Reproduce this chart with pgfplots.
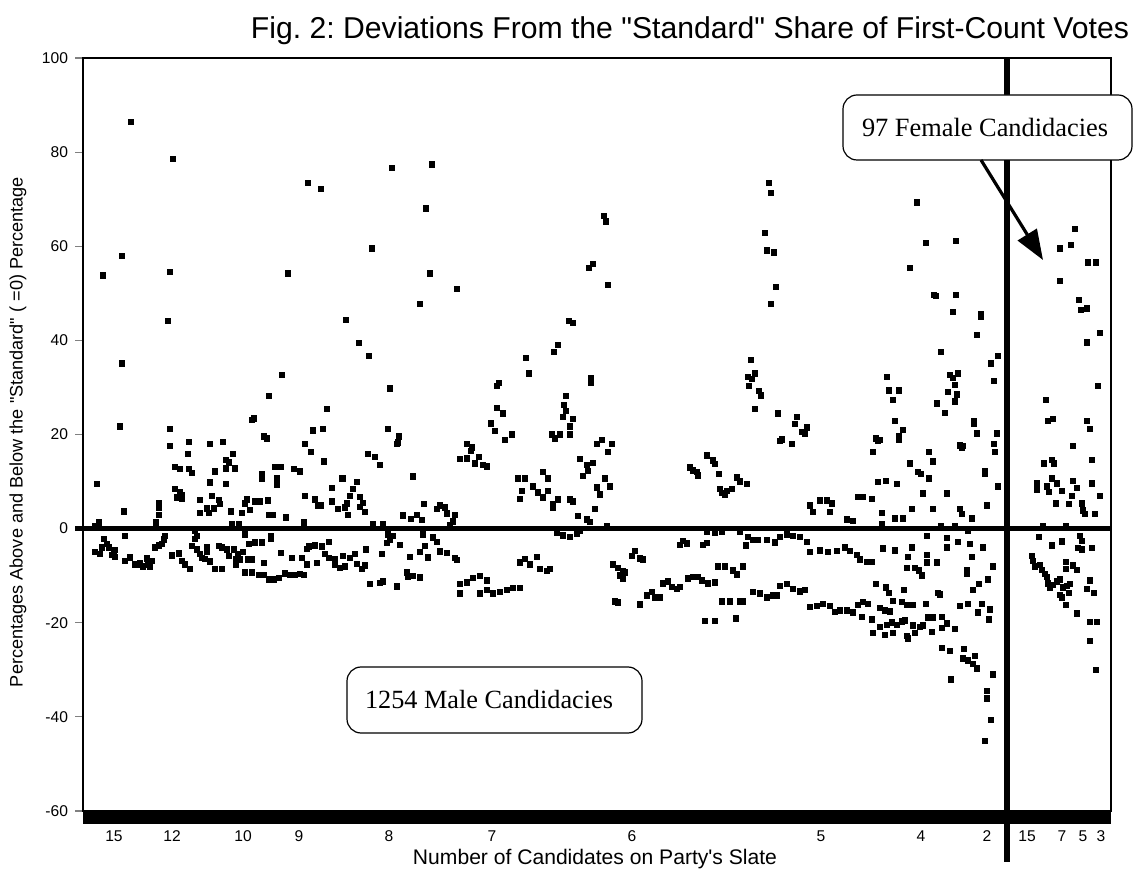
\documentclass[border=0pt]{standalone}
\usepackage{fontspec}
\setmainfont{Liberation Serif}
\setsansfont{Liberation Sans}
\usepackage{pgfplots}
\usepackage{pgfplotstable}
\pgfplotsset{compat=1.18}
\usetikzlibrary{arrows.meta}
\frenchspacing

\pgfplotstableread{
x y
131 86.4
173 78.6
308 73.4
321 72.2
122 57.9
103 53.8
170 54.6
288 54.2
168 44.1
122 35.1
282 32.7
269 28.2
327 25.4
252 23.1
254 23.4
120 21.7
170 21.2
313 20.9
323 21.2
264 19.6
267 19.2
189 18.4
210 18.0
223 18.4
170 17.6
305 18.0
311 16.3
324 14.3
188 15.9
233 15.9
226 14.6
229 14.1
175 13.1
180 12.7
189 12.7
192 11.8
215 12.2
226 12.8
235 12.8
275 13.1
281 13.1
294 12.7
300 12.2
262 11.6
262 10.7
277 10.8
277 9.4
97 9.5
210 9.8
226 9.5
175 8.5
180 7.8
182 7.2
177 6.6
182 6.3
305 7.0
332 8.6
342 10.7
200 6.1
212 6.9
219 6.1
220 5.2
214 4.3
207 4.3
209 3.3
200 3.3
159 5.4
159 4.4
159 2.9
124 3.7
231 3.7
242 3.3
250 4.0
245 5.4
247 6.2
255 5.8
260 5.8
268 6.0
269 2.9
273 2.9
286 2.4
315 6.2
318 4.9
321 4.9
332 5.8
338 4.2
304 1.3
99 1.3
95 0.5
156 1.3
232 1.0
239 1.0
125 -1.5
195 -0.5
197 -1.5
195 -2.2
245 -1.2
271 -1.5
271 -2.1
165 -1.5
164 -2.3
162 -3.2
159 -3.6
155 -4.0
104 -2.2
107 -3.3
102 -4.0
109 -4.0
115 -4.5
114 -5.2
95 -5.0
100 -5.4
112 -5.6
115 -6.0
125 -6.9
130 -6.1
135 -7.6
140 -7.4
148 -7.6
152 -6.9
147 -6.3
138 -7.7
143 -8.0
150 -8.0
172 -5.7
179 -5.3
182 -6.8
185 -7.6
190 -8.6
192 -3.7
197 -4.4
200 -5.4
202 -6.2
207 -4.0
207 -5.0
205 -6.4
210 -7.0
215 -8.6
222 -8.6
219 -3.7
222 -4.0
227 -4.4
234 -4.4
238 -5.4
243 -5.0
229 -5.8
236 -6.5
240 -6.5
248 -6.5
252 -6.5
236 -7.6
249 -3.3
255 -2.9
262 -2.9
264 -7.3
245 -9.3
252 -9.3
259 -9.8
264 -9.8
269 -10.8
274 -10.8
279 -10.5
285 -9.5
290 -9.8
295 -9.8
300 -9.6
304 -9.8
281 -5.2
292 -6.2
302 -6.2
307 -7.6
309 -3.8
315 -3.6
322 -3.8
329 -2.8
307 -4.3
325 -5.4
329 -6.2
335 -6.5
340 -8.4
335 -7.7
317 -7.3
392 76.6
432 77.4
426 68.0
372 59.5
430 54.2
457 51.0
420 47.7
589 55.4
593 56.3
346 44.4
359 39.5
369 36.7
569 44.1
573 43.7
558 39.1
554 37.5
526 36.3
529 33.0
591 32.0
591 31.0
390 29.8
499 31.0
497 30.3
566 28.2
564 26.3
566 25.0
563 23.8
573 23.3
497 25.7
503 24.5
491 22.4
495 20.8
512 20.0
505 18.8
570 21.7
570 20.0
552 20.0
560 20.0
555 19.2
388 21.2
399 19.6
397 18.0
467 18.0
472 17.3
597 18.0
398 18.3
471 16.5
479 15.2
460 14.8
467 14.9
475 13.9
483 13.5
487 13.2
368 15.9
375 15.2
380 13.5
413 11.1
343 10.7
357 9.9
353 8.5
350 6.9
347 5.4
345 4.5
348 2.9
360 6.7
363 5.5
360 4.6
365 3.5
518 10.7
525 10.7
543 12.0
548 10.7
522 8.0
520 6.3
533 9.0
538 7.7
543 6.6
548 8.0
553 5.2
553 4.5
558 6.2
570 6.2
573 5.8
580 14.8
587 13.5
588 12.3
583 11.2
593 14.0
597 8.8
595 4.2
578 2.7
587 2.0
590 1.4
424 5.3
417 2.9
422 1.8
411 2.1
403 2.8
437 4.2
440 4.9
445 4.5
447 3.2
455 2.9
453 1.5
450 0.8
373 1.0
383 1.0
388 -1.2
390 -2.3
387 -3.0
393 -1.6
400 -3.5
423 -1.2
433 -1.9
437 -2.8
425 -3.7
366 -4.4
382 -5.4
410 -6.0
420 -5.0
428 -6.1
440 -4.8
447 -5.2
455 -6.2
457 -6.6
343 -5.8
350 -6.2
355 -5.4
357 -7.5
362 -8.6
365 -7.8
345 -8.0
407 -9.3
413 -10.0
420 -10.4
408 -10.2
370 -11.8
380 -11.5
383 -11.2
397 -12.3
460 -11.8
467 -11.4
473 -10.5
480 -10.0
487 -11.0
460 -13.8
480 -13.8
487 -13.0
493 -13.8
500 -13.4
507 -13.0
513 -12.6
520 -12.6
520 -7.2
525 -6.4
530 -7.6
537 -6.0
540 -8.6
547 -9.0
550 -8.6
557 -0.8
563 -1.4
570 -1.7
577 -1.0
580 -0.5
604 66.4
606 65.3
608 51.8
769 73.4
771 71.3
765 62.8
767 59.1
774 58.7
776 51.3
771 47.7
751 35.9
755 33.0
748 32.3
752 31.8
749 30.3
759 29.3
761 28.3
755 25.4
778 24.5
797 23.7
795 22.3
807 21.5
802 20.5
805 20.1
782 19.0
792 18.0
780 18.7
602 18.8
612 18.0
608 16.3
605 10.7
610 9.0
600 7.3
707 15.6
713 14.5
715 13.7
690 13.0
697 12.0
698 11.3
693 12.4
719 11.6
737 10.9
740 10.0
747 9.5
720 8.4
727 8.0
732 8.4
725 7.3
722 7.6
810 4.9
813 3.5
820 6.0
827 6.0
832 5.4
830 3.5
847 2.0
853 1.6
858 6.7
607 0.5
683 -2.6
680 -3.5
687 -3.1
703 -3.5
707 -3.0
707 -0.6
715 -0.8
722 -0.7
740 -0.6
748 -1.7
753 -2.4
758 -2.4
767 -2.4
775 -2.9
780 -1.8
787 -1.2
793 -1.5
800 -1.8
807 -2.8
746 -3.6
635 -4.7
632 -5.8
640 -6.3
643 -6.5
613 -7.6
618 -8.4
623 -9.0
620 -9.9
625 -9.3
623 -10.7
615 -15.5
618 -15.7
640 -16.1
647 -14.2
652 -13.5
655 -14.6
660 -14.6
663 -11.6
668 -11.2
672 -12.4
677 -12.8
680 -12.4
688 -10.6
693 -10.2
698 -10.2
702 -11.0
708 -11.6
715 -11.4
718 -8.0
725 -8.0
733 -8.9
737 -9.7
743 -8.0
722 -15.5
730 -15.5
740 -15.5
743 -15.5
753 -13.5
760 -13.8
767 -14.6
773 -14.2
777 -14.2
780 -12.2
787 -11.8
793 -12.8
800 -13.3
805 -13.0
705 -19.6
715 -19.6
736 -19.1
810 -5.0
820 -4.6
828 -5.0
837 -4.7
845 -4.0
850 -4.7
857 -5.6
810 -16.6
817 -16.4
823 -16.0
830 -16.4
835 -17.7
840 -17.4
847 -17.4
853 -17.8
858 -16.2
917 69.3
926 60.7
956 61.1
910 55.4
934 49.7
936 49.4
956 49.7
953 46.1
981 45.6
981 45.0
977 41.2
941 37.5
998 36.7
991 35.1
994 31.4
887 32.3
889 29.4
899 29.4
893 27.3
950 32.7
953 32.0
958 33.0
955 30.5
948 29.0
957 28.5
955 27.0
937 26.6
945 24.6
895 22.9
903 21.0
899 19.7
974 22.9
974 22.3
977 20.2
997 20.2
994 18.0
876 19.2
880 18.8
963 17.6
878 18.7
899 19.0
873 16.3
929 16.3
960 17.7
962 17.3
995 16.3
933 14.3
910 13.9
918 12.0
921 11.6
985 12.3
985 11.6
929 10.7
878 9.9
886 10.2
897 9.5
998 9.0
863 6.7
872 6.3
923 7.5
947 7.5
987 4.9
912 4.2
933 4.2
960 4.2
962 3.1
882 3.3
895 2.2
903 2.2
972 2.2
882 1.0
941 0.5
955 0.5
968 -0.4
927 -1.5
947 -2.0
947 -4.0
958 -2.8
970 -3.2
983 -4.0
883 -4.2
895 -4.6
912 -4.0
908 -6.0
927 -5.6
927 -7.2
937 -7.2
972 -6.0
860 -6.5
867 -7.1
872 -7.1
907 -8.4
915 -8.4
919 -8.9
922 -9.9
967 -8.9
967 -9.6
993 -8.0
988 -10.8
876 -11.8
886 -12.5
889 -13.7
904 -13.0
938 -13.7
940 -14.0
973 -13.0
979 -11.8
863 -15.6
868 -16.0
880 -16.8
885 -17.4
890 -17.6
893 -15.4
902 -15.6
907 -16.2
913 -16.2
926 -16.0
960 -16.4
968 -16.0
982 -16.0
978 -17.8
990 -17.2
989 -19.3
862 -18.8
872 -19.3
880 -20.9
887 -20.5
892 -19.9
897 -20.4
902 -19.7
873 -22.2
885 -22.6
893 -22.1
905 -19.5
913 -20.6
915 -22.1
908 -23.3
920 -20.9
923 -20.6
932 -21.9
928 -18.9
933 -18.9
942 -21.1
942 -18.7
947 -20.1
955 -21.3
907 -22.8
942 -25.4
950 -26.0
964 -25.5
963 -27.6
968 -28.0
975 -27.0
977 -29.7
973 -28.8
951 -32.0
993 -31.0
987 -34.5
987 -36.1
991 -40.7
985 -45.1
}\maledata

\pgfplotstableread{
x y
1075 63.7
1060 59.5
1071 60.3
1088 56.6
1096 56.6
1060 52.6
1079 48.6
1081 46.5
1087 46.8
1100 41.6
1087 39.6
1098 30.3
1046 27.3
1048 22.9
1053 23.3
1087 22.9
1090 21.2
1073 17.6
1052 14.6
1054 13.9
1044 13.9
1092 14.6
1052 10.7
1037 9.6
1037 8.3
1047 9.0
1049 7.8
1057 9.6
1062 8.0
1073 10.2
1077 8.6
1092 9.6
1072 6.9
1056 5.4
1069 5.2
1082 5.4
1083 3.9
1100 6.9
1095 3.1
1085 3.1
1043 0.5
1066 0.5
1039 -1.7
1052 -3.6
1062 -2.7
1080 -1.6
1082 -2.6
1078 -4.1
1082 -4.4
1092 -4.1
1032 -5.8
1033 -6.9
1035 -8.0
1040 -7.7
1042 -8.8
1045 -9.6
1047 -10.3
1048 -11.6
1053 -12.0
1057 -11.2
1060 -10.8
1063 -12.5
1067 -12.2
1070 -11.8
1060 -14.1
1062 -14.6
1050 -12.5
1066 -7.1
1066 -8.6
1073 -7.8
1077 -8.8
1090 -11.0
1087 -12.8
1094 -13.7
1069 -13.7
1066 -16.2
1077 -18.0
1090 -19.8
1097 -19.8
1090 -23.9
1096 -30.0
}\femaledata

\begin{document}
\begin{tikzpicture}[x=0.5pt,y=0.5pt]
\useasboundingbox (0,0) rectangle (1134,873);
\begin{axis}[
  at={(41.5pt,31pt)}, anchor=south west,
  scale only axis, width=514pt, height=376.5pt,
  xmin=83, xmax=1111, ymin=-60, ymax=100,
  clip=false,
  axis line style={line width=0.7pt},
  xtick={114,172,243,299,389,492,632,821,921,987,1027,1062,1083,1101},
  xticklabels={15,12,10,9,8,7,6,5,4,2,15,7,5,3},
  xtick style={draw=none},
  xticklabel style={yshift=-2.5pt},
  ytick={-60,-40,-20,0,20,40,60,80,100},
  ytick pos=left,
  tick align=outside,
  major tick length=4pt,
  ytick style={line width=0.6pt},
  ticklabel style={font=\sffamily\fontsize{7.8}{8.5}\selectfont},
  /pgf/number format/assume math mode=true,
]
\addplot[only marks, mark=square*, mark size=1.35pt, black] table[x=x,y=y] {\maledata};
\addplot[only marks, mark=square*, mark size=1.35pt, black] table[x=x,y=y] {\femaledata};
\draw[line width=2.6pt] ([xshift=-4pt]axis cs:83,0) -- (axis cs:1111,0);
\draw[line width=2.6pt] (axis cs:1007,100) -- ([yshift=-25.5pt]axis cs:1007,-60);
\fill ([yshift=-0.3pt]axis cs:83,-60) rectangle ([yshift=-6.5pt]axis cs:1111,-60);
\end{axis}
\node at (690,842) {\resizebox{439pt}{!}{\sffamily Fig. 2: Deviations From the \textquotedbl Standard\textquotedbl\ Share of First-Count Votes}};
\node at (595,14) {\resizebox{182pt}{!}{\sffamily Number of Candidates on Party\textquotesingle s Slate}};
\node[rotate=90] at (18,441) {\resizebox{255pt}{!}{\sffamily Percentages Above and Below the \textquotedbl Standard\textquotedbl\ ( =0) Percentage}};
\draw[rounded corners=7pt, line width=0.6pt] (347,206) rectangle (642,140);
\node at (489,173) {\resizebox{124pt}{!}{\rmfamily 1254 Male Candidacies}};
\draw[rounded corners=7pt, line width=0.6pt, fill=white] (843,778) rectangle (1132,713);
\node at (985,746) {\resizebox{123pt}{!}{\rmfamily 97 Female Candidacies}};
\draw[line width=1.6pt, -{Triangle[length=15pt,width=11pt]}] (981,713) -- (1043,613);
\end{tikzpicture}
\end{document}
